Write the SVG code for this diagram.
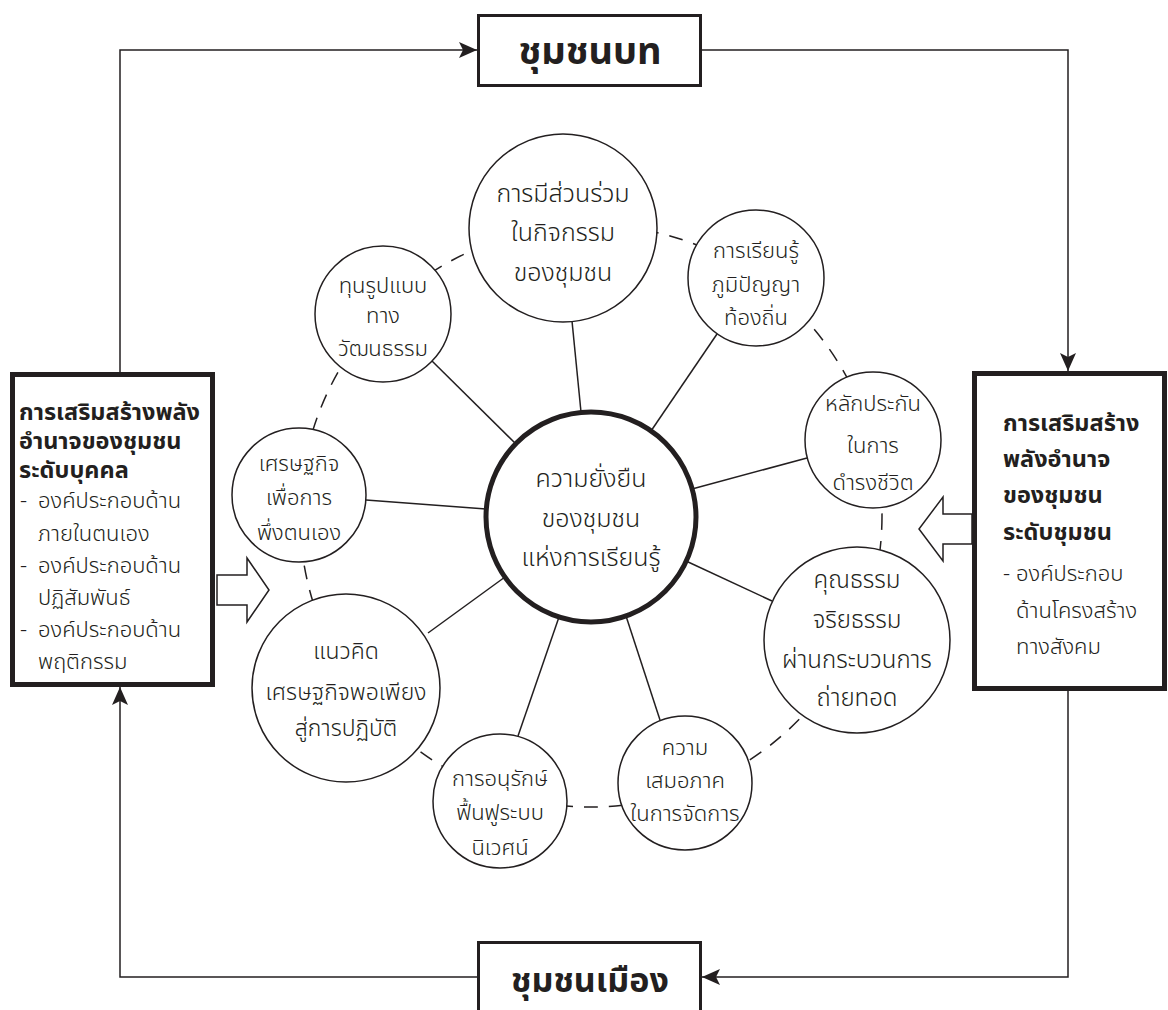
<svg xmlns="http://www.w3.org/2000/svg" width="1168" height="1010" viewBox="0 0 1168 1010">
<style>
text{font-family:"Noto Sans Thai","Noto Sans Thai Looped","Loma","Garuda","Tlwg Typo","Noto Sans","DejaVu Sans",sans-serif;fill:#231f20;font-weight:300}
.c{text-anchor:middle}
.big{font-size:25px}
.mid{font-size:23px}
.eth{font-size:24px}
.sm{font-size:22px}
.bt{font-size:23.5px;font-weight:bold}
.bx{font-weight:bold;text-anchor:middle}
.it{font-size:22px}
.sat{fill:#fff;stroke:#231f20;stroke-width:1.5}
.flow{fill:none;stroke:#231f20;stroke-width:1.5}
.spoke{stroke:#231f20;stroke-width:1.5}
.hollow{fill:#fff;stroke:#231f20;stroke-width:1.5;stroke-linejoin:miter}
</style>
<defs>
<marker id="ah" viewBox="0 0 18 16" refX="18" refY="8" markerWidth="18" markerHeight="16" markerUnits="userSpaceOnUse" orient="auto">
<path d="M0,0 L18,8 L0,16 L4,8 z" fill="#231f20"/>
</marker>
</defs>
<rect width="1168" height="1010" fill="#fff"/>
<g id="connectors">
<polyline class="flow" points="120,372 120,50 477,50" marker-end="url(#ah)"/>
<polyline class="flow" points="702,50 1068,50 1068,371" marker-end="url(#ah)"/>
<polyline class="flow" points="1068,690 1068,977 702,977" marker-end="url(#ah)"/>
<polyline class="flow" points="477,977 120,977 120,687" marker-end="url(#ah)"/>
<circle cx="591" cy="516" r="291" fill="none" stroke="#231f20" stroke-width="1.5" stroke-dasharray="14 11"/>
<line class="spoke" x1="581" y1="412" x2="572" y2="321"/>
<line class="spoke" x1="516" y1="444" x2="432" y2="361"/>
<line class="spoke" x1="651" y1="431" x2="717" y2="334"/>
<line class="spoke" x1="692" y1="489" x2="807" y2="458"/>
<line class="spoke" x1="686" y1="561" x2="772" y2="601"/>
<line class="spoke" x1="626" y1="616" x2="660" y2="720"/>
<line class="spoke" x1="559" y1="617" x2="518" y2="736"/>
<line class="spoke" x1="505" y1="577" x2="428" y2="633"/>
<line class="spoke" x1="486" y1="509" x2="366" y2="500"/>
<polygon class="hollow" points="217,575 247,575 247,558 269,590 247,622 247,605 217,605"/>
<polygon class="hollow" points="972,514 943,514 943,497 919,529 943,561 943,544 972,544"/>
</g>
<g id="top-box">
<rect x="478.5" y="15.5" width="222" height="70" fill="#fff" stroke="#231f20" stroke-width="3"/>
<text class="bx" x="590" y="64" style="font-size:38px">ชุมชนบท</text>
</g>
<g id="bottom-box">
<rect x="478.5" y="942.5" width="222" height="90" fill="#fff" stroke="#231f20" stroke-width="3"/>
<text class="bx" x="590" y="992" style="font-size:34px">ชุมชนเมือง</text>
</g>
<g id="left-box">
<rect x="12.5" y="374.5" width="200" height="310" fill="#fff" stroke="#231f20" stroke-width="5"/>
<text class="bt" x="19" y="420">การเสริมสร้างพลัง</text>
<text class="bt" x="19" y="449">อำนาจของชุมชน</text>
<text class="bt" x="19" y="478">ระดับบุคคล</text>
<text class="it" x="20" y="508">- <tspan x="38">องค์ประกอบด้าน</tspan></text>
<text class="it" x="38" y="541">ภายในตนเอง</text>
<text class="it" x="20" y="573">- <tspan x="38">องค์ประกอบด้าน</tspan></text>
<text class="it" x="38" y="605">ปฏิสัมพันธ์</text>
<text class="it" x="20" y="637">- <tspan x="38">องค์ประกอบด้าน</tspan></text>
<text class="it" x="38" y="669">พฤติกรรม</text>
</g>
<g id="right-box">
<rect x="974.5" y="373.5" width="190" height="315" fill="#fff" stroke="#231f20" stroke-width="5"/>
<text class="bt" x="1003" y="431">การเสริมสร้าง</text>
<text class="bt" x="1003" y="467">พลังอำนาจ</text>
<text class="bt" x="1003" y="503">ของชุมชน</text>
<text class="bt" x="1003" y="540">ระดับชุมชน</text>
<text class="it" x="1003" y="581">- <tspan x="1016">องค์ประกอบ</tspan></text>
<text class="it" x="1016" y="618">ด้านโครงสร้าง</text>
<text class="it" x="1016" y="654">ทางสังคม</text>
</g>
<g id="center">
<circle cx="591" cy="517" r="105" fill="#fff" stroke="#231f20" stroke-width="5"/>
<text class="c big" x="591" y="487">ความยั่งยืน</text>
<text class="c big" x="591" y="527">ของชุมชน</text>
<text class="c big" x="591" y="566">แห่งการเรียนรู้</text>
</g>
<g id="n-participation">
<circle class="sat" cx="563" cy="228" r="94"/>
<text class="c big" x="563" y="202">การมีส่วนร่วม</text>
<text class="c big" x="563" y="241">ในกิจกรรม</text>
<text class="c big" x="563" y="281">ของชุมชน</text>
</g>
<g id="n-culture">
<circle class="sat" cx="383" cy="314" r="68"/>
<text class="c sm" x="383" y="293">ทุนรูปแบบ</text>
<text class="c sm" x="383" y="323">ทาง</text>
<text class="c sm" x="383" y="356">วัฒนธรรม</text>
</g>
<g id="n-wisdom">
<circle class="sat" cx="756" cy="278" r="68"/>
<text class="c sm" x="756" y="258">การเรียนรู้</text>
<text class="c sm" x="756" y="292">ภูมิปัญญา</text>
<text class="c sm" x="756" y="325">ท้องถิ่น</text>
</g>
<g id="n-security">
<circle class="sat" cx="873" cy="440" r="68"/>
<text class="c sm" x="873" y="411">หลักประกัน</text>
<text class="c sm" x="873" y="453">ในการ</text>
<text class="c sm" x="873" y="490">ดำรงชีวิต</text>
</g>
<g id="n-ethics">
<circle class="sat" cx="857" cy="640" r="93"/>
<text class="c eth" x="857" y="588">คุณธรรม</text>
<text class="c eth" x="857" y="628">จริยธรรม</text>
<text class="c eth" x="857" y="668">ผ่านกระบวนการ</text>
<text class="c eth" x="857" y="706">ถ่ายทอด</text>
</g>
<g id="n-equality">
<circle class="sat" cx="685" cy="783" r="67"/>
<text class="c sm" x="685" y="755">ความ</text>
<text class="c sm" x="685" y="788">เสมอภาค</text>
<text class="c sm" x="685" y="821">ในการจัดการ</text>
</g>
<g id="n-ecology">
<circle class="sat" cx="500" cy="801" r="67"/>
<text class="c sm" x="500" y="786">การอนุรักษ์</text>
<text class="c sm" x="500" y="820">ฟื้นฟูระบบ</text>
<text class="c sm" x="500" y="855">นิเวศน์</text>
</g>
<g id="n-sufficiency">
<circle class="sat" cx="346" cy="688" r="94"/>
<text class="c mid" x="346" y="659">แนวคิด</text>
<text class="c mid" x="346" y="700">เศรษฐกิจพอเพียง</text>
<text class="c mid" x="346" y="736">สู่การปฏิบัติ</text>
</g>
<g id="n-selfreliance">
<circle class="sat" cx="299" cy="495" r="67"/>
<text class="c sm" x="299" y="471">เศรษฐกิจ</text>
<text class="c sm" x="299" y="505">เพื่อการ</text>
<text class="c sm" x="299" y="540">พึ่งตนเอง</text>
</g>
</svg>
